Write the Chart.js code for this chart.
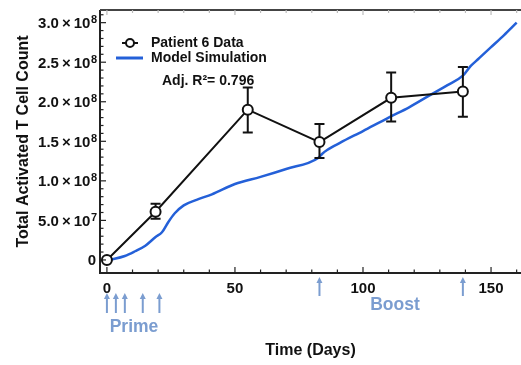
<!DOCTYPE html>
<html>
<head>
<meta charset="utf-8">
<script src="https://cdn.jsdelivr.net/npm/chart.js"></script>
<style>
  html, body { margin: 0; padding: 0; background: #fff; overflow: hidden; }
  canvas { display: block; }
</style>
</head>
<body>
<canvas id="c" width="521" height="365"></canvas>
<script>
// Patient 6 measurements (days, cell count, error bar ends)
const dataDays   = [0, 19, 55, 83, 111, 139];
const dataValues = [0, 6.1e7, 1.9e8, 1.49e8, 2.05e8, 2.13e8];
const errLow     = [0, 5.2e7, 1.61e8, 1.29e8, 1.75e8, 1.81e8];
const errHigh    = [0, 7.1e7, 2.18e8, 1.72e8, 2.37e8, 2.44e8];

// Model simulation curve
const modelDays   = [0, 3, 7, 11, 15, 19, 21.5, 24, 26.5, 30, 35, 41, 50, 60, 70, 82.5, 84, 86, 91, 100, 110, 118, 126, 133, 139, 142, 145, 150, 155, 160];
const modelValues = [0, 1.5e6, 5e6, 1.1e7, 1.8e7, 2.9e7, 3.5e7, 4.8e7, 5.9e7, 6.9e7, 7.6e7, 8.3e7, 9.6e7, 1.05e8, 1.15e8, 1.29e8, 1.34e8, 1.39e8, 1.48e8, 1.63e8, 1.8e8, 1.93e8, 2.08e8, 2.21e8, 2.33e8, 2.45e8, 2.54e8, 2.69e8, 2.84e8, 3.0e8];

// dosing schedule
const primeDays = [0, 3.5, 7, 14, 20.5];
const boostDays = [83, 139];

// axes
const xTicks = [0, 50, 100, 150];
const xTickLabels = ['0', '50', '100', '150'];
const yTicks = [0, 5e7, 1e8, 1.5e8, 2e8, 2.5e8, 3e8];
const yTickMantissa = ['0', '5.0', '1.0', '1.5', '2.0', '2.5', '3.0'];
const yTickExponent = ['', '7', '8', '8', '8', '8', '8'];

const FONT = '"Liberation Sans", Arial, Helvetica, sans-serif';
const BLUE = '#2460d8';
const ARROW = '#7b9dd0';

function pairs(xs, ys) {
    return xs.map((x, i) => ({ x: x, y: ys[i] }));
}

// axes frame, inward ticks, tick labels, error bars, arrows and legend
const decor = {
    id: 'decor',
    beforeDatasetDraw(chart, args) {
        if (args.index !== 0) return;
        const ctx = chart.ctx, xs = chart.scales.x, ys = chart.scales.y;
        ctx.save();
        ctx.strokeStyle = '#111';
        ctx.lineWidth = 2;
        dataDays.forEach((d, i) => {
            if (errHigh[i] === errLow[i]) return;
            const px = xs.getPixelForValue(d);
            const y1 = ys.getPixelForValue(errLow[i]);
            const y2 = ys.getPixelForValue(errHigh[i]);
            ctx.beginPath();
            ctx.moveTo(px, y1); ctx.lineTo(px, y2);
            ctx.moveTo(px - 5, y1); ctx.lineTo(px + 5, y1);
            ctx.moveTo(px - 5, y2); ctx.lineTo(px + 5, y2);
            ctx.stroke();
        });
        ctx.restore();
    },
    afterDraw(chart) {
        const ctx = chart.ctx, a = chart.chartArea;
        const xs = chart.scales.x, ys = chart.scales.y;
        ctx.save();

        // frame
        ctx.strokeStyle = '#222';
        ctx.lineWidth = 2;
        ctx.beginPath();
        ctx.moveTo(a.left, a.top); ctx.lineTo(a.left, a.bottom); ctx.lineTo(a.right, a.bottom);
        ctx.stroke();
        ctx.strokeStyle = '#444';
        ctx.beginPath();
        ctx.moveTo(a.left, a.top); ctx.lineTo(a.right, a.top);
        ctx.stroke();

        // y ticks, inward
        ctx.strokeStyle = '#222';
        ctx.lineWidth = 1.2;
        for (let v = 0; v <= 3.1e8; v += 1e7) {
            const py = ys.getPixelForValue(v);
            const major = Math.round(v / 1e7) % 5 === 0;
            ctx.beginPath();
            ctx.moveTo(a.left, py); ctx.lineTo(a.left + (major ? 6 : 3.5), py);
            ctx.stroke();
        }
        // x ticks, inward (bottom and top)
        for (let d = 0; d <= 160; d += 10) {
            const px = xs.getPixelForValue(d);
            const major = d % 50 === 0;
            ctx.strokeStyle = '#222';
            ctx.beginPath();
            ctx.moveTo(px, a.bottom); ctx.lineTo(px, a.bottom - (major ? 6 : 3.5));
            ctx.stroke();
            ctx.strokeStyle = '#bbb';
            ctx.beginPath();
            ctx.moveTo(px, a.top); ctx.lineTo(px, a.top + (major ? 5 : 3));
            ctx.stroke();
        }

        // x tick labels
        ctx.fillStyle = '#111';
        ctx.font = 'bold 15px ' + FONT;
        ctx.textAlign = 'center';
        ctx.textBaseline = 'alphabetic';
        xTicks.forEach((v, i) => {
            ctx.fillText(xTickLabels[i], xs.getPixelForValue(v), a.bottom + 20);
        });

        // y tick labels with superscript exponents
        ctx.textAlign = 'right';
        yTicks.forEach((v, i) => {
            const py = ys.getPixelForValue(v);
            const base = py + 5.5;
            let right = a.left - 3;
            if (yTickExponent[i]) {
                ctx.font = 'bold 11px ' + FONT;
                ctx.fillText(yTickExponent[i], right, base - 5);
                right -= ctx.measureText(yTickExponent[i]).width + 0.5;
                ctx.font = 'bold 15px ' + FONT;
                ctx.fillText(yTickMantissa[i] + '\u2009\u00d7\u200910', right, base);
            } else {
                ctx.font = 'bold 15px ' + FONT;
                ctx.fillText(yTickMantissa[i], right - 1, base);
            }
        });

        // dosing arrows
        function arrow(px, top, bottom) {
            ctx.strokeStyle = ARROW;
            ctx.fillStyle = ARROW;
            ctx.lineWidth = 2;
            ctx.beginPath();
            ctx.moveTo(px, top + 4); ctx.lineTo(px, bottom);
            ctx.stroke();
            ctx.beginPath();
            ctx.moveTo(px, top); ctx.lineTo(px - 3, top + 6); ctx.lineTo(px + 3, top + 6);
            ctx.closePath();
            ctx.fill();
        }
        primeDays.forEach(d => arrow(xs.getPixelForValue(d), 293, 313));
        boostDays.forEach(d => arrow(xs.getPixelForValue(d), 277, 296));
        ctx.fillStyle = ARROW;
        ctx.font = 'bold 17.5px ' + FONT;
        ctx.textAlign = 'center';
        ctx.textBaseline = 'middle';
        ctx.fillText('Prime', 134, 327);
        ctx.fillText('Boost', 395, 305);

        // legend
        ctx.strokeStyle = '#111';
        ctx.lineWidth = 2;
        ctx.beginPath();
        ctx.moveTo(122, 43); ctx.lineTo(138, 43);
        ctx.stroke();
        ctx.beginPath();
        ctx.arc(130, 43, 4, 0, Math.PI * 2);
        ctx.fillStyle = '#fff';
        ctx.fill();
        ctx.stroke();
        ctx.strokeStyle = BLUE;
        ctx.lineWidth = 3;
        ctx.beginPath();
        ctx.moveTo(116, 58); ctx.lineTo(143, 58);
        ctx.stroke();
        ctx.fillStyle = '#111';
        ctx.font = 'bold 14px ' + FONT;
        ctx.textAlign = 'left';
        ctx.fillText('Patient 6 Data', 151, 43);
        ctx.fillText('Model Simulation', 151, 58);
        ctx.fillText('Adj. R\u00b2= 0.796', 162, 81);

        ctx.restore();
    }
};

new Chart(document.getElementById('c'), {
    type: 'line',
    data: {
        datasets: [
            {
                label: 'Patient 6 Data',
                data: pairs(dataDays, dataValues),
                borderColor: '#111',
                borderWidth: 2,
                pointRadius: 5,
                pointBorderWidth: 2,
                pointBackgroundColor: '#fff',
                pointBorderColor: '#111',
                tension: 0
            },
            {
                label: 'Model Simulation',
                data: pairs(modelDays, modelValues),
                borderColor: BLUE,
                borderWidth: 2.5,
                pointRadius: 0,
                tension: 0.3,
                cubicInterpolationMode: 'monotone'
            }
        ]
    },
    options: {
        responsive: false,
        animation: false,
        devicePixelRatio: 1,
        layout: { autoPadding: false, padding: { top: 10, right: 0, left: 0, bottom: 0 } },
        plugins: {
            legend: { display: false },
            tooltip: { enabled: false }
        },
        scales: {
            x: {
                type: 'linear',
                min: -2.7,
                max: 161.7,
                grid: { display: false, drawTicks: false },
                border: { display: false },
                afterBuildTicks: s => { s.ticks = xTicks.map(v => ({ value: v })); },
                afterFit: s => { s.height = 92; },
                ticks: { display: false },
                title: {
                    display: true,
                    text: 'Time (Days)',
                    color: '#111',
                    padding: { bottom: 5 },
                    font: { family: FONT, size: 16, weight: 'bold' }
                }
            },
            y: {
                min: -1.65e7,
                max: 3.16e8,
                grid: { display: false, drawTicks: false },
                border: { display: false },
                afterBuildTicks: s => { s.ticks = yTicks.map(v => ({ value: v })); },
                afterFit: s => { s.width = 100; },
                ticks: { display: false },
                title: {
                    display: true,
                    text: 'Total Activated T Cell Count',
                    color: '#111',
                    padding: { top: 14 },
                    font: { family: FONT, size: 16, weight: 'bold' }
                }
            }
        }
    },
    plugins: [decor]
});
</script>
</body>
</html>
